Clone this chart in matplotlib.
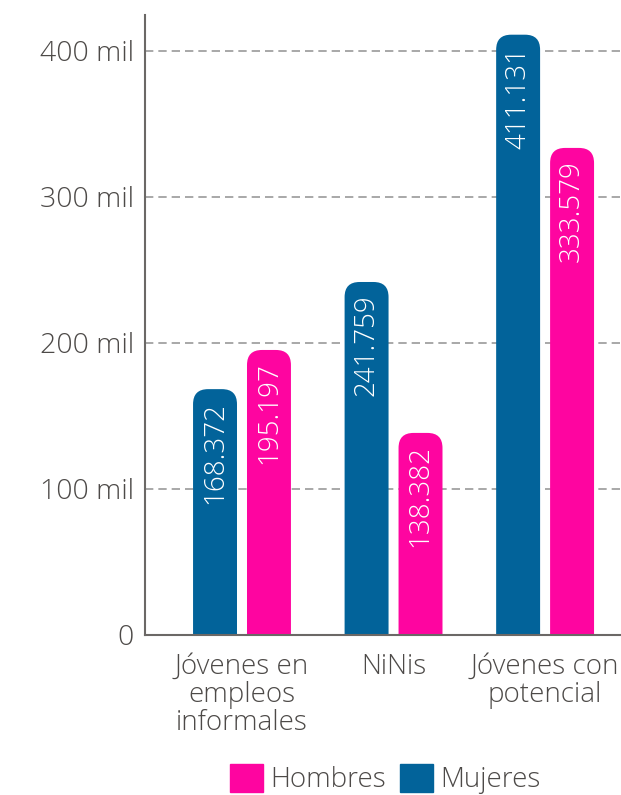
import matplotlib.pyplot as plt
from matplotlib.patches import FancyBboxPatch, Patch
import numpy as np

categorias = ["Jóvenes en\nempleos\ninformales", "NiNis", "Jóvenes con\npotencial"]
mujeres = [168372, 241759, 411131]
hombres = [195197, 138382, 333579]
yticks = [0, 100000, 200000, 300000, 400000]
ylabels = ["0", "100 mil", "200 mil", "300 mil", "400 mil"]

azul = "#02639a"
rosa = "#fe05a0"
gris = "#4d4a48"

plt.rcParams['font.family'] = ['Open Sans', 'DejaVu Sans']
plt.rcParams['font.weight'] = 'light'

fig = plt.figure(figsize=(6.21, 7.95), dpi=100)
ax = fig.add_axes([0.2335, 0.2013, 0.7907, 0.7799])
xlim = (-0.64, 2.6)
ylim = (0, 424658)
ax.set_xlim(*xlim)
ax.set_ylim(*ylim)

x = np.arange(len(categorias))
w = 0.29
off = 0.178

# px per data unit, for round corners
ax_w_px = 0.7907 * 621
ax_h_px = 0.7799 * 795
aspect = ((ylim[1] - ylim[0]) / ax_h_px) / ((xlim[1] - xlim[0]) / ax_w_px)
r = 15 / ax_w_px * (xlim[1] - xlim[0])
ry = r * aspect


def barras(xs, vals, color):
    bars = ax.bar(xs, vals, w, color=color, zorder=2)
    for b, v in zip(bars, vals):
        # swap the plain rectangle for one with a rounded top
        # (bottom corners pushed below the axis and clipped)
        bx, bw, bh = b.get_x(), b.get_width(), b.get_height()
        b.remove()
        p = FancyBboxPatch((bx, -ry * 1.5), bw, bh + ry * 1.5,
                           boxstyle=f"round,pad=0,rounding_size={r}",
                           mutation_aspect=aspect, fc=color, ec="none", zorder=2)
        ax.add_patch(p)
        ax.annotate(f"{v:,}".replace(",", "."), (bx + bw / 2, bh),
                    xytext=(0, -9), textcoords="offset points", rotation=90,
                    ha="center", va="top", color="white", fontsize=20, zorder=3)


barras(x - off, mujeres, azul)
barras(x + off, hombres, rosa)

ax.set_yticks(yticks)
ax.set_yticklabels(ylabels, fontsize=20.5, color=gris)
ax.set_xticks(x)
ax.set_xticklabels(categorias, fontsize=20, color=gris, linespacing=1.0)
ax.tick_params(axis="both", length=0)
ax.tick_params(axis="y", pad=8)
ax.tick_params(axis="x", pad=13)

ax.yaxis.grid(True, linestyle=(0, (5, 3)), color="#9a9a9a", lw=1.2)
ax.set_axisbelow(True)
for s in ["top", "right"]:
    ax.spines[s].set_visible(False)
for s in ["left", "bottom"]:
    ax.spines[s].set_color("#6b6866")
    ax.spines[s].set_linewidth(1.5)

handles = [Patch(color=rosa, label="Hombres"), Patch(color=azul, label="Mujeres")]
fig.legend(handles=handles, loc="center", bbox_to_anchor=(0.62, 0.02), ncol=2,
           frameon=False, fontsize=20, handlelength=1.2, handleheight=1.2,
           handletextpad=0.25, columnspacing=0.5, labelcolor=gris)

fig.savefig("out.png", dpi=100)
